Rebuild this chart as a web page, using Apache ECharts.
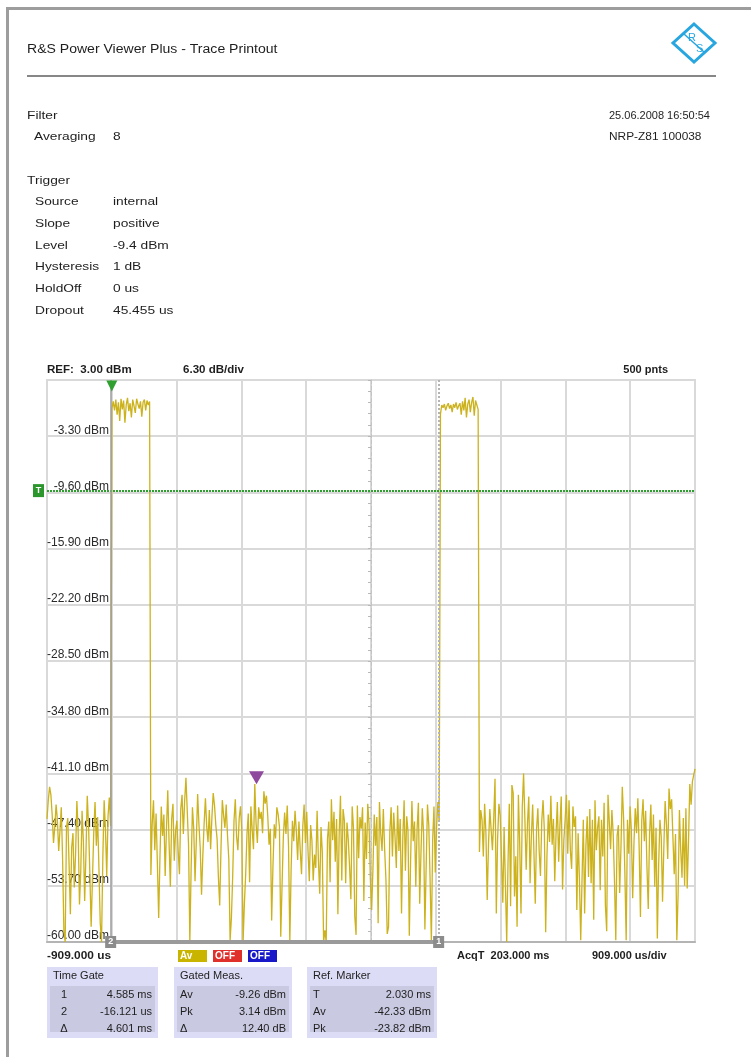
<!DOCTYPE html>
<html>
<head>
<meta charset="utf-8">
<script src="https://cdn.jsdelivr.net/npm/echarts@6/dist/echarts.min.js"></script>
<style>
  html, body { margin: 0; padding: 0; background: #fff; }
  #chart { width: 751px; height: 1057px; }
</style>
</head>
<body>
<div id="chart"></div>
<script>
// ---- Trace: 500 points, sweep from -909 us over 10 divisions of 909 us ----
const sweepStartUs = -909;
const usPerDiv = 909;
const divisions = 10;
const pointCount = 500;

// power samples in dBm, in time order
const noiseBeforePulse1 = [
  -46.2,-44.1,-42.6,-43.5,-45.8,-48.9,-47.1,-44.6,-46.3,-49.8,
  -47.5,-44.9,-50.6,-58.8,-60.0,-47.2,-46.1,-51.3,-56.9,-49.4,
  -47.8,-53.9,-50.2,-44.2,-47.6,-55.8,-52.1,-45.3,-48.7,-55.4,
  -50.1,-43.6,-46.9,-52.4,-58.3,-53.0,-47.7,-44.3,-49.2,-46.0,
  -51.8,-57.9,-60.0,-50.5,-44.1,-47.3,-52.6,-45.9,-43.8,-47.0
];
const pulse1 = [
  -0.2,0.6,-0.4,0.8,-0.9,0.5,-1.6,0.9,-0.3,0.7,
  -1.8,0.2,1.0,-0.5,0.4,-1.2,0.8,0.1,-0.7,0.9,
  0.3,-0.2,0.6,-1.1,0.5,0.8,-0.4,0.7,0.2,0.6
];
const noiseBetweenPulses = [
  -52.5,-46.8,-44.1,-49.7,-45.6,-51.2,-57.3,-50.4,-44.8,-48.1,
  -45.7,-52.6,-47.3,-43.0,-48.9,-53.8,-46.2,-44.5,-50.9,-47.6,
  -46.4,-49.8,-52.4,-45.1,-43.5,-47.9,-44.2,-41.6,-45.3,-49.1,
  -60.0,-51.7,-44.9,-47.3,-53.2,-48.6,-43.4,-46.8,-49.5,-54.7,
  -50.3,-46.7,-43.9,-47.1,-48.8,-45.2,-49.6,-46.0,-43.3,-44.7,
  -46.9,-48.5,-52.8,-55.9,-49.4,-44.1,-45.8,-47.2,-44.6,-48.1,
  -50.7,-59.8,-57.3,-52.6,-46.4,-44.0,-48.2,-49.7,-46.1,-44.8,
  -47.5,-60.0,-55.7,-52.4,-47.9,-45.6,-53.3,-44.8,-47.4,-49.6,
  -42.3,-46.7,-48.9,-44.9,-46.2,-45.4,-47.8,-43.1,-44.5,-43.6,
  -45.9,-49.1,-47.3,-57.6,-51.5,-46.8,-48.4,-44.9,-45.7,-47.1,
  -59.4,-53.7,-48.2,-45.5,-47.9,-44.7,-49.3,-60.0,-51.8,-46.4,
  -48.7,-45.3,-47.6,-50.8,-46.5,-49.7,-52.4,-47.0,-44.6,-48.9,
  -45.4,-49.8,-53.2,-46.9,-48.6,-53.1,-50.2,-51.7,-45.3,-50.8,
  -54.6,-47.1,-49.9,-60.0,-58.7,-60.0,-48.4,-46.5,-53.3,-44.0,
  -48.6,-45.4,-51.0,-46.2,-56.9,-47.8,-43.6,-53.1,-45.1,-46.4,
  -53.4,-46.6,-48.5,-51.6,-55.2,-44.8,-47.2,-57.1,-59.2,-44.7,
  -50.6,-46.0,-47.3,-44.9,-55.4,-46.6,-50.7,-44.5,-46.8,-52.9,
  -56.4,-51.8,-45.7,-49.2,-46.0,-57.9,-44.3,-47.9,-49.8,-45.1,
  -49.6,-53.0,-59.1,-58.3,-47.6,-44.9,-50.4,-45.5,-48.2,-51.7,
  -44.7,-49.8,-46.2,-56.8,-48.3,-44.1,-52.0,-45.9,-47.6,-59.3,
  -50.9,-44.2,-48.7,-46.5,-53.8,-47.3,-44.4,-55.7,-49.9,-45.0,
  -47.8,-58.6,-51.4,-44.6,-46.9,-53.0,-60.0,-48.5,-44.8,-52.2,
  -47.1,-44.3,-46.5
];
const pulse2 = [
  -0.8,0.2,-0.1,0.3,-0.4,0.1,0.4,-0.2,0.2,-0.6,
  0.3,-0.1,0.5,-0.3,0.1,0.4,-0.9,0.6,-0.4,1.0,
  -1.2,0.3,0.8,-0.6,0.5,1.1,-1.0,0.7,0.2,-0.3
];
const noiseAfterPulse2 = [
  -49.9,-45.2,-46.3,-50.4,-44.5,-47.8,-55.3,-49.0,-45.1,-44.9,
  -49.7,-46.2,-41.7,-56.8,-48.4,-44.5,-45.8,-46.0,-55.6,-47.1,
  -53.5,-60.0,-51.2,-44.5,-56.0,-42.4,-43.3,-54.9,-50.4,-58.3,
  -43.5,-48.9,-56.8,-44.8,-41.1,-46.2,-51.9,-46.7,-43.7,-53.4,
  -48.1,-44.6,-50.2,-55.7,-47.3,-45.0,-49.8,-52.6,-46.4,-44.1,
  -47.5,-58.9,-50.3,-45.7,-48.8,-43.6,-49.1,-46.2,-53.2,-47.8,
  -44.3,-51.0,-46.9,-43.7,-54.1,-48.6,-46.3,-43.5,-50.1,-44.1,
  -49.7,-51.8,-44.8,-47.1,-45.9,-56.4,-47.8,-53.0,-59.8,-60.0,
  -46.3,-56.8,-49.2,-45.9,-52.7,-45.1,-53.4,-46.3,-57.5,-44.1,
  -49.7,-47.2,-45.9,-54.2,-46.3,-50.4,-44.4,-55.9,-58.8,-43.5,
  -43.7,-49.6,-45.2,-47.9,-53.1,-59.8,-48.1,-46.9,-54.5,-49.3,
  -42.6,-46.1,-52.3,-59.8,-46.3,-50.1,-44.8,-47.5,-55.1,-48.9,
  -45.0,-47.8,-43.9,-49.5,-57.2,-46.4,-44.0,-48.7,-45.3,-51.6,
  -56.3,-47.9,-44.6,-50.8,-45.7,-53.8,-47.2,-59.6,-51.4,-46.3,
  -48.2,-55.5,-49.4,-44.2,-46.8,-50.7,-42.8,-45.1,-44.0,-48.3,
  -52.4,-47.9,-59.8,-54.6,-45.2,-49.7,-52.8,-46.1,-53.7,-45.0,
  -54.0,-48.7,-42.3,-44.6,-42.0,-41.3,-40.6
];

// ---- Vertical scale ----
const refLevelDbm = 3.0;
const dbPerDiv = 6.3;
const bottomDbm = -60.0;

// ---- Markers ----
const triggerTimeUs = 0;
const triggerLevelDbm = -9.4;
const gate1Us = 4585;
const gate2Us = -16.121;
const refMarkerUs = 2030;
const refMarkerDbm = -42.33;

// ---- Text blocks ----
const titleText = 'R&S Power Viewer Plus - Trace Printout';
const timestampText = '25.06.2008 16:50:54';
const sensorText = 'NRP-Z81 100038';
const filterRows = [['Averaging', '8']];
const triggerRows = [
  ['Source', 'internal'], ['Slope', 'positive'], ['Level', '-9.4 dBm'],
  ['Hysteresis', '1 dB'], ['HoldOff', '0 us'], ['Dropout', '45.455 us']
];
const headerLeft = 'REF:  3.00 dBm';
const headerMid = '6.30 dB/div';
const headerRight = '500 pnts';
const footerStart = '-909.000 us';
const footerAcq = 'AcqT  203.000 ms';
const footerDiv = '909.000 us/div';
const traceTags = [['Av', '#c9b400'], ['OFF', '#e0302c'], ['OFF', '#1818c8']];
const timeGateTitle = 'Time Gate';
const timeGateRows = [['1', '4.585 ms'], ['2', '-16.121 us'], ['\u0394', '4.601 ms']];
const gatedTitle = 'Gated Meas.';
const gatedRows = [['Av', '-9.26 dBm'], ['Pk', '3.14 dBm'], ['\u0394', '12.40 dB']];
const refTitle = 'Ref. Marker';
const refRows = [['T', '2.030 ms'], ['Av', '-42.33 dBm'], ['Pk', '-23.82 dBm']];

// ---- Build the trace ----
const samples = [].concat(noiseBeforePulse1, pulse1, noiseBetweenPulses, pulse2, noiseAfterPulse2);
const sweepEndUs = sweepStartUs + usPerDiv * divisions;
const stepUs = (sweepEndUs - sweepStartUs) / (pointCount - 1);
const traceData = samples.map((v, i) => [sweepStartUs + i * stepUs, v]);

const FONT = '"Liberation Sans", Arial, sans-serif';
const GRID = { left: 47, top: 380, width: 648, height: 562 };
const TRACE_COLOR = '#ccb21c';
const GRID_COLOR = '#d9d9d9';

function txt(x, y, s, o) {
  o = o || {};
  return {
    type: 'text', x: x, y: y, z: 10,
    scaleX: o.sx || 1,
    style: {
      text: s,
      font: (o.weight || 'normal') + ' ' + (o.size || 11) + 'px ' + FONT,
      fill: o.color || '#1e1e1e',
      align: o.align || 'left',
      verticalAlign: 'middle'
    }
  };
}

const graphics = [];
// page frame
graphics.push({ type: 'rect', shape: { x: 6, y: 7, width: 745, height: 3 }, style: { fill: '#9d9d9d' } });
graphics.push({ type: 'rect', shape: { x: 6, y: 7, width: 3, height: 1050 }, style: { fill: '#9d9d9d' } });

// header
graphics.push(txt(27, 50, titleText, { size: 12, sx: 1.17 }));
graphics.push({ type: 'line', shape: { x1: 27, y1: 76, x2: 716, y2: 76 }, style: { stroke: '#111', lineWidth: 1.2 } });

// logo: blue rhombus with R and S
graphics.push({
  type: 'polygon', shape: { points: [[694, 24], [715, 43], [694, 62], [673, 43]] },
  style: { fill: 'none', stroke: '#27a6e0', lineWidth: 3 }
});
graphics.push({ type: 'line', shape: { x1: 684, y1: 34, x2: 704, y2: 52 }, style: { stroke: '#27a6e0', lineWidth: 1.5 } });
graphics.push(txt(688, 38, 'R', { size: 11, color: '#27a6e0' }));
graphics.push(txt(696, 49, 'S', { size: 11, color: '#27a6e0' }));

// filter / trigger settings
const INFO_SX = 1.25;
graphics.push(txt(27, 116, 'Filter', { sx: INFO_SX }));
filterRows.forEach((r, i) => {
  graphics.push(txt(34, 137 + i * 21.8, r[0], { sx: INFO_SX }));
  graphics.push(txt(113, 137 + i * 21.8, r[1], { sx: INFO_SX }));
});
graphics.push(txt(27, 181, 'Trigger', { sx: INFO_SX }));
triggerRows.forEach((r, i) => {
  graphics.push(txt(35, 202 + i * 21.8, r[0], { sx: INFO_SX }));
  graphics.push(txt(113, 202 + i * 21.8, r[1], { sx: INFO_SX }));
});
graphics.push(txt(609, 116, timestampText));
graphics.push(txt(609, 137, sensorText, { sx: 1.08 }));

// trace header line
graphics.push(txt(47, 370, headerLeft, { weight: 'bold', sx: 1.05 }));
graphics.push(txt(183, 370, headerMid, { weight: 'bold', sx: 1.05 }));
graphics.push(txt(668, 370, headerRight, { weight: 'bold', align: 'right' }));

// trace footer line
graphics.push(txt(47, 956, footerStart, { weight: 'bold', sx: 1.08 }));
graphics.push(txt(457, 956, footerAcq, { weight: 'bold' }));
graphics.push(txt(592, 956, footerDiv, { weight: 'bold' }));
traceTags.forEach((t, i) => {
  const x = 178 + i * 35;
  graphics.push({ type: 'rect', z: 10, shape: { x: x, y: 950, width: 29, height: 12 }, style: { fill: t[1] } });
  graphics.push(txt(x + 2, 956, t[0], { color: '#fff', weight: 'bold', size: 10 }));
});

// readout tables
function table(x, w, title, rows, labelCenter) {
  graphics.push({ type: 'rect', z: 9, shape: { x: x, y: 967, width: w, height: 71 }, style: { fill: '#dcdcf6' } });
  graphics.push({ type: 'rect', z: 9, shape: { x: x + 3, y: 986, width: w - 6, height: 46 }, style: { fill: '#c9c9e2' } });
  graphics.push(txt(x + 6, 976, title));
  rows.forEach((r, i) => {
    const y = 995 + i * 17;
    if (labelCenter) graphics.push(txt(x + 17, y, r[0], { align: 'center' }));
    else graphics.push(txt(x + 6, y, r[0]));
    graphics.push(txt(x + w - 6, y, r[1], { align: 'right' }));
  });
}
table(47, 111, timeGateTitle, timeGateRows, true);
table(174, 118, gatedTitle, gatedRows, false);
table(307, 130, refTitle, refRows, false);

const option = {
  animation: false,
  backgroundColor: '#ffffff',
  grid: Object.assign({ show: true, borderColor: GRID_COLOR, borderWidth: 2, backgroundColor: 'transparent' }, GRID),
  xAxis: {
    type: 'value', min: sweepStartUs, max: sweepEndUs, interval: usPerDiv,
    axisLine: { show: true, onZero: false, lineStyle: { color: '#b4b4b4', width: 2 } },
    axisTick: { show: false }, axisLabel: { show: false },
    splitLine: { show: true, lineStyle: { color: GRID_COLOR, width: 2 } }
  },
  yAxis: [{
    type: 'value', min: bottomDbm, max: refLevelDbm, interval: dbPerDiv,
    axisLine: { show: false }, axisTick: { show: false },
    splitLine: { show: true, lineStyle: { color: GRID_COLOR, width: 2 } },
    axisLabel: {
      inside: true, align: 'right', verticalAlign: 'bottom', margin: 62,
      fontFamily: FONT, fontSize: 12, color: '#2a2a2a',
      formatter: v => (v > refLevelDbm - 0.1 ? '' : v.toFixed(2) + ' dBm')
    }
  }, {
    // centre graticule with minor ticks
    type: 'value', min: bottomDbm, max: refLevelDbm, interval: dbPerDiv,
    position: 'left', offset: -GRID.width / 2,
    axisLine: { show: true, lineStyle: { color: '#c4c4c4', width: 1, type: 'dashed' } },
    axisTick: { show: true, length: 3, lineStyle: { color: '#b8b8b8' } },
    minorTick: { show: true, splitNumber: 5, length: 3, lineStyle: { color: '#b8b8b8' } },
    axisLabel: { show: false }, splitLine: { show: false }
  }],
  graphic: graphics,
  series: [{
    type: 'line',
    data: traceData,
    showSymbol: false,
    clip: true,
    z: 3,
    lineStyle: { color: TRACE_COLOR, width: 1.3 },
    markLine: {
      silent: true, symbol: 'none', label: { show: false }, animation: false,
      data: [
        [{ coord: [sweepStartUs, triggerLevelDbm] }, { coord: [sweepEndUs, triggerLevelDbm], lineStyle: { color: '#2f9f2f', width: 2, type: [2, 1] } }],
        [{ coord: [gate2Us, bottomDbm] }, { coord: [gate2Us, refLevelDbm], lineStyle: { color: '#9c9c9c', width: 1.5, type: 'solid' } }],
        [{ coord: [gate1Us, bottomDbm] }, { coord: [gate1Us, refLevelDbm], lineStyle: { color: '#b4b4b4', width: 2, type: [2, 2] } }],
        [{ coord: [gate2Us, bottomDbm] }, { coord: [gate1Us, bottomDbm], lineStyle: { color: '#9a9a9a', width: 4, type: 'solid' } }]
      ]
    },
    markPoint: {
      silent: true, animation: false,
      data: [
        { coord: [triggerTimeUs, refLevelDbm], symbol: 'triangle', symbolRotate: 180, symbolSize: [11, 11], symbolOffset: [0, 6],
          itemStyle: { color: '#2f9f2f' }, label: { show: false } },
        { coord: [sweepStartUs, triggerLevelDbm], symbol: 'rect', symbolSize: [11, 13], symbolOffset: [-8.5, 0],
          itemStyle: { color: '#2b962b' }, label: { show: true, position: 'inside', formatter: 'T', color: '#fff', fontSize: 9, fontWeight: 'bold', fontFamily: FONT } },
        { coord: [refMarkerUs, refMarkerDbm], symbol: 'triangle', symbolRotate: 180, symbolSize: [15, 13], symbolOffset: [0, -6.5],
          itemStyle: { color: '#8e4a9c' }, label: { show: false } },
        { coord: [gate2Us, bottomDbm], symbol: 'rect', symbolSize: [11, 12],
          itemStyle: { color: '#8c8c8c' }, label: { show: true, position: 'inside', formatter: '2', color: '#fff', fontSize: 9, fontWeight: 'bold', fontFamily: FONT } },
        { coord: [gate1Us, bottomDbm], symbol: 'rect', symbolSize: [11, 12],
          itemStyle: { color: '#8c8c8c' }, label: { show: true, position: 'inside', formatter: '1', color: '#fff', fontSize: 9, fontWeight: 'bold', fontFamily: FONT } }
      ]
    }
  }]
};

const chart = echarts.init(document.getElementById('chart'), null, { renderer: 'canvas' });
chart.setOption(option);
</script>
</body>
</html>
